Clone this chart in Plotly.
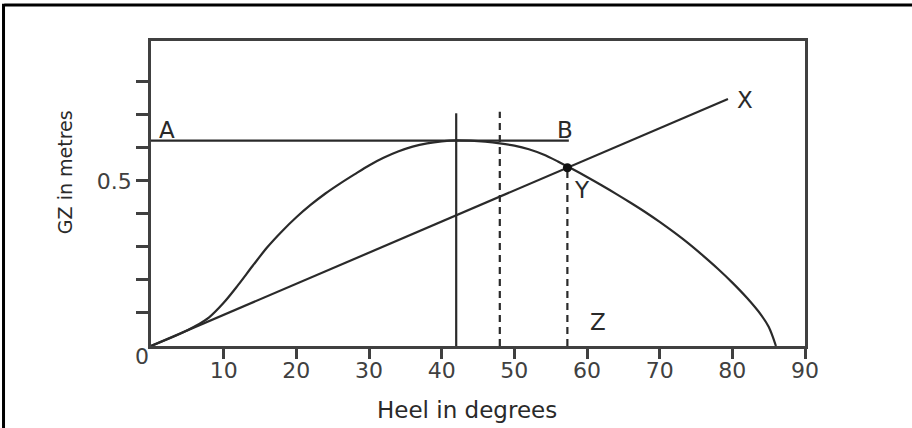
import plotly.graph_objects as go

# Statical stability (GZ) curve
heel_deg = [0, 4, 6, 8, 10, 12, 14, 16, 18, 20, 22, 24, 26, 28, 30, 32, 34, 36,
            38, 40, 42, 44, 46, 48, 50, 52, 54, 56, 58, 60, 62, 64, 66, 68, 70,
            72, 74, 76, 78, 80, 82, 84, 85, 86]
gz_m = [0, 0.037, 0.059, 0.087, 0.131, 0.185, 0.243, 0.299, 0.347, 0.39, 0.428,
        0.462, 0.492, 0.52, 0.547, 0.57, 0.589, 0.604, 0.614, 0.62, 0.623, 0.622,
        0.619, 0.614, 0.607, 0.596, 0.58, 0.559, 0.536, 0.512, 0.487, 0.461,
        0.434, 0.406, 0.376, 0.344, 0.31, 0.273, 0.234, 0.192, 0.146, 0.093,
        0.058, 0]

gm = 0.54            # GZ value of the tangent line at one radian
one_radian = 57.3    # degrees
tangent_end = 79.4   # heel where line OX stops
max_gz = 0.622       # level of line AB
ab_end = 57.5
max_heel = 42        # angle of maximum GZ
deck_edge = 48       # dashed reference angle
solid_top = 0.705
dash_top = 0.71

x_ticks = [10, 20, 30, 40, 50, 60, 70, 80, 90]
y_ticks = [0.1, 0.2, 0.3, 0.4, 0.5, 0.6, 0.7, 0.8]
y_tick_text = ["", "", "", "", "0.5", "", "", ""]

INK = "#2a2a2a"
AXIS = "#404040"
FONT = "DejaVu Sans"

fig = go.Figure()

def seg(xs, ys, dash="solid", width=2.2):
    fig.add_trace(go.Scatter(x=xs, y=ys, mode="lines", showlegend=False,
                             hoverinfo="skip", cliponaxis=False,
                             line=dict(color=INK, width=width, dash=dash)))

# GZ curve
fig.add_trace(go.Scatter(x=heel_deg, y=gz_m, mode="lines", showlegend=False,
                         line=dict(color=INK, width=2.2, shape="spline", smoothing=1.0)))
# tangent line O-X through GM at one radian
seg([0, tangent_end], [0, gm / one_radian * tangent_end])
# line A-B at maximum GZ
seg([0, ab_end], [max_gz, max_gz])
# vertical at maximum GZ angle
seg([max_heel, max_heel], [0, solid_top])
# dashed verticals
seg([deck_edge, deck_edge], [0, dash_top], dash="7px,5px")
seg([one_radian, one_radian], [0, gm], dash="7px,5px")
# point Y
fig.add_trace(go.Scatter(x=[one_radian], y=[gm], mode="markers", showlegend=False,
                         marker=dict(color="#111", size=9)))

labels = [("A", 2.2, 0.655), ("B", 57.0, 0.655), ("X", 81.7, 0.745),
          ("Y", 59.3, 0.473), ("Z", 61.5, 0.073)]
for txt, lx, ly in labels:
    fig.add_annotation(x=lx, y=ly, text=txt, showarrow=False,
                       xanchor="center", yanchor="middle",
                       font=dict(family=FONT, size=23, color=INK))

# origin label and axis titles
fig.add_annotation(xref="paper", yref="paper", x=-0.0138, y=-0.035, text="0",
                   showarrow=False, xanchor="center", yanchor="middle",
                   font=dict(family=FONT, size=22, color=AXIS))
fig.add_annotation(xref="paper", yref="paper", x=0.483, y=-0.21,
                   text="Heel in degrees", showarrow=False,
                   xanchor="center", yanchor="middle",
                   font=dict(family=FONT, size=23, color=INK))
fig.add_annotation(xref="paper", yref="paper", x=-0.1315, y=0.57,
                   text="GZ in metres", showarrow=False, textangle=-90,
                   xanchor="center", yanchor="middle",
                   font=dict(family=FONT, size=19, color=INK))

# outer frame (top and left edges)
fig.add_shape(type="line", xref="paper", yref="paper", x0=-0.224, x1=1.17,
              y0=1.118, y1=1.118, line=dict(color="#000", width=3))
fig.add_shape(type="line", xref="paper", yref="paper", x0=-0.2255, x1=-0.2255,
              y0=1.122, y1=-0.3, line=dict(color="#000", width=3))

fig.update_layout(
    width=912, height=428,
    margin=dict(l=151, r=107, t=41, b=82),
    paper_bgcolor="white", plot_bgcolor="white",
    font=dict(family=FONT, size=22, color=INK),
    xaxis=dict(range=[0, 90], tickvals=x_ticks, ticks="outside", ticklen=10,
               tickwidth=2.5, tickcolor=AXIS, showline=True, linecolor=AXIS,
               linewidth=2.5, mirror=True, showgrid=False, zeroline=False,
               ticklabelstandoff=-7,
               tickfont=dict(family=FONT, size=22, color=AXIS)),
    yaxis=dict(range=[0, 0.924], tickvals=y_ticks, ticktext=y_tick_text,
               ticks="outside", ticklen=12, tickwidth=2.5, tickcolor=AXIS,
               showline=True, linecolor=AXIS, linewidth=2.5, mirror=True,
               showgrid=False, zeroline=False,
               tickfont=dict(family=FONT, size=22, color=AXIS)),
)

fig.write_html("out.html")
